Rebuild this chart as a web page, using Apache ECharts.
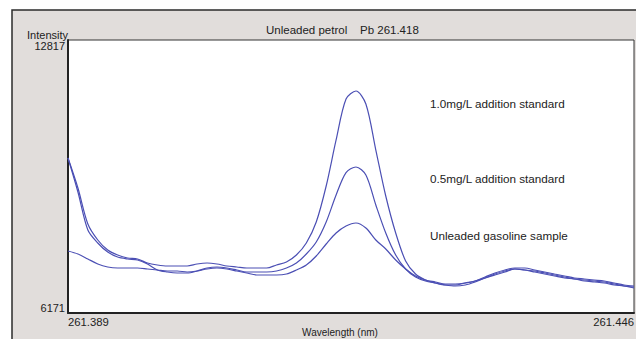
<!DOCTYPE html>
<html>
<head>
<meta charset="utf-8">
<script src="https://cdn.jsdelivr.net/npm/echarts@6/dist/echarts.min.js"></script>
<style>
html,body{margin:0;padding:0;background:#ffffff;}
#chart{width:636px;height:339px;}
</style>
</head>
<body>
<div id="chart"></div>
<script>
// Wavelength (nm)
const wavelengths = [
  261.389,261.390,261.391,261.392,261.393,261.394,261.395,261.396,261.397,261.398,
  261.399,261.400,261.401,261.402,261.403,261.404,261.405,261.406,261.407,261.408,
  261.409,261.410,261.411,261.412,261.413,261.414,261.415,261.416,261.417,261.418,
  261.419,261.420,261.421,261.422,261.423,261.424,261.425,261.426,261.427,261.428,
  261.429,261.430,261.431,261.432,261.433,261.434,261.435,261.436,261.437,261.438,
  261.439,261.440,261.441,261.442,261.443,261.444,261.445,261.446
];
// Intensity, 1.0 mg/L addition standard
const std10 = [
  9944,9214,8338,7948,7705,7583,7510,7486,7388,7340,
  7315,7315,7315,7364,7388,7364,7315,7291,7266,7266,
  7266,7340,7413,7583,7875,8386,9263,10383,11380,11575,
  11260,10139,9019,8119,7437,7120,6974,6901,6853,6853,
  6901,6950,7047,7145,7218,7266,7266,7218,7169,7120,
  7072,7023,6999,6974,6950,6901,6853,6828
];
// Intensity, 0.5 mg/L addition standard
const std05 = [
  9944,9117,8192,7875,7656,7534,7486,7461,7364,7218,
  7169,7145,7145,7193,7266,7291,7266,7218,7169,7169,
  7169,7193,7266,7388,7607,7899,8386,9044,9590,9725,
  9530,8800,8119,7583,7242,7047,6950,6901,6853,6828,
  6853,6926,7023,7096,7169,7242,7218,7169,7120,7072,
  7023,6999,6950,6926,6901,6853,6828,6780
];
// Intensity, unleaded gasoline sample
const sample = [
  7680,7607,7486,7364,7291,7266,7266,7266,7242,7218,
  7193,7193,7169,7193,7242,7266,7242,7193,7145,7096,
  7096,7096,7120,7218,7340,7559,7851,8119,8289,8362,
  8240,7948,7729,7461,7242,7072,6974,6926,6877,6877,
  6901,6950,7023,7120,7193,7242,7218,7193,7145,7096,
  7047,6999,6974,6950,6926,6877,6828,6804
];
const seriesNames = ['1.0mg/L addition standard','0.5mg/L addition standard','Unleaded gasoline sample'];
const titleText = 'Unleaded petrol    Pb 261.418';
const xMin = 261.389, xMax = 261.446;
const yMin = 6171, yMax = 12817;

const FONT = "'Liberation Sans', Arial, sans-serif";
const lineColor = '#4b4fb4';
function pairs(ys){ return ys.map((v,i)=>[wavelengths[i], v]); }
function mk(name, ys){
  return {name, type:'line', data:pairs(ys), showSymbol:false, smooth:0.3,
    lineStyle:{color:lineColor, width:1.2}, itemStyle:{color:lineColor}, silent:true, animation:false};
}

const chart = echarts.init(document.getElementById('chart'), null, {renderer:'svg'});
chart.setOption({
  animation:false,
  textStyle:{fontFamily:FONT},
  title:{text:titleText, left:266, top:24, padding:0,
    textStyle:{fontSize:11.5, fontWeight:'normal', color:'#222', fontFamily:FONT}},
  grid:{left:68, right:2, top:40, bottom:26, show:true, backgroundColor:'#ffffff',
    borderColor:'#333', borderWidth:1, containLabel:false, outerBoundsMode:'none'},
  graphic:[
    {type:'rect', z:-10, silent:true, shape:{x:12, y:10, width:700, height:400},
      style:{fill:'#e1dddb', stroke:'#2b2b2b', lineWidth:1.5}},
    {type:'text', x:430, y:103, z:10, silent:true,
      style:{text:seriesNames[0], fill:'#222', font:'11.7px '+FONT, verticalAlign:'middle'}},
    {type:'text', x:430, y:178, z:10, silent:true,
      style:{text:seriesNames[1], fill:'#222', font:'11.7px '+FONT, verticalAlign:'middle'}},
    {type:'text', x:430, y:235, z:10, silent:true,
      style:{text:seriesNames[2], fill:'#222', font:'11.7px '+FONT, verticalAlign:'middle'}}
  ],
  xAxis:{type:'value', min:xMin, max:xMax,
    name:'Wavelength (nm)', nameLocation:'middle', nameGap:14, nameMoveOverlap:false,
    nameTextStyle:{fontSize:10, color:'#222', padding:[0,22,0,0], verticalAlign:'top', lineHeight:11},
    axisLine:{show:true, lineStyle:{color:'#222', width:2}},
    axisTick:{show:false}, splitLine:{show:false},
    axisLabel:{show:true, margin:3, fontSize:11.3, color:'#222', showMinLabel:true, showMaxLabel:true,
      alignMinLabel:'left', alignMaxLabel:'right',
      formatter:function(v){ return (Math.abs(v-xMin)<1e-7||Math.abs(v-xMax)<1e-7)? v.toFixed(3):''; }}
  },
  yAxis:{type:'value', min:yMin, max:yMax,
    name:'Intensity', nameLocation:'end', nameGap:5, nameMoveOverlap:false,
    nameTextStyle:{fontSize:11, color:'#222', align:'right', verticalAlign:'middle', padding:[0,0,0,0]},
    axisLine:{show:true, lineStyle:{color:'#222', width:2}},
    axisTick:{show:false}, splitLine:{show:false},
    axisLabel:{show:true, margin:3, fontSize:11, color:'#222', showMinLabel:true, showMaxLabel:true,
      verticalAlignMinLabel:'bottom', verticalAlignMaxLabel:'top',
      formatter:function(v){ return (Math.abs(v-yMin)<1e-6||Math.abs(v-yMax)<1e-6)? String(v):''; }}
  },
  series:[mk(seriesNames[0], std10), mk(seriesNames[1], std05), mk(seriesNames[2], sample)]
});
</script>
</body>
</html>
